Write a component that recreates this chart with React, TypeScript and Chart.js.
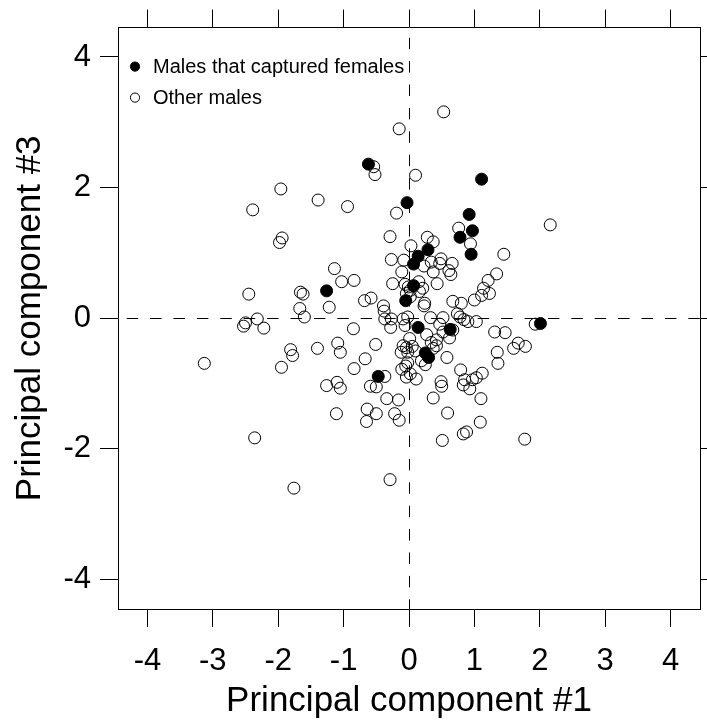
import React, { useEffect, useRef } from 'react';
import { Chart, registerables } from 'chart.js';

Chart.register(...registerables);

const FONT = '"Liberation Sans", Arial, Helvetica, sans-serif';

const seriesLabels = ['Males that captured females', 'Other males'];
const xTickValues = [-4, -3, -2, -1, 0, 1, 2, 3, 4];
const yTickValues = [-4, -2, 0, 2, 4];
const axisLimit = 4.45;

const capturedX = [-0.62, -0.03, 1.11, 0.92, 0.97, 0.78, 0.95, 0.29, 0.14, 0.07, 0.07, -0.05, -1.26, 2.01, 0.14, 0.63, 0.25, 0.30, -0.47];
const capturedY = [2.36, 1.77, 2.13, 1.59, 1.34, 1.24, 0.98, 1.05, 0.95, 0.83, 0.50, 0.27, 0.42, -0.08, -0.14, -0.17, -0.53, -0.60, -0.89];

const otherX = [
  0.53, -0.15, -0.54, -0.52, 0.10, -1.96, -1.39, -2.39, -0.94, -0.19,
  -1.94, -1.98, -0.29, 0.03, 2.16, 0.76, 0.94, 0.28, 0.37, -0.27,
  -0.08, -1.14, -0.11, -1.03, -0.84, -2.45, -1.66, -1.62, 1.45, 1.34,
  1.21, 1.14, 1.23, 1.11, 1.00, 0.49, 0.47, 0.34, 0.66, 0.37,
  0.61, 0.64, 0.23, 0.43, -0.25, -0.06, -0.01, 0.02, 0.15, 0.21,
  0.16, -0.04, 0.02, -0.68, -0.58, -1.67, -1.22, -1.60, -2.32, -2.50,
  -2.53, -2.22, 0.24, 0.23, -0.39, -0.38, -0.02, 0.67, 0.80, 0.33,
  0.52, 0.47, 0.74, 0.78, 0.84, 0.90, 1.03, -0.37, -0.27, -0.09,
  -0.06, -0.28, -0.85, 1.31, 1.47, 1.93, 1.67, 1.60, 1.78, 1.35,
  1.36, 0.67, 0.52, 0.62, 0.42, 0.34, 0.42, 0.37, 0.27, 0.58,
  0.19, 0.25, 0.79, 1.12, 1.03, 0.97, 0.85, 0.83, 0.93, 0.49,
  0.50, 0.37, 1.10, 0.59, 1.09, 0.83, 0.88, 0.51, 1.77, 0.01,
  -0.09, -0.04, 0.05, -0.02, 0.10, -0.12, -0.02, -0.05, -0.11, 0.02,
  -0.04, 0.11, -0.37, -0.59, -0.50, -0.34, -0.16, -0.64, -0.50, -0.65,
  -0.22, -0.15, -1.11, -2.36, -0.29, -1.76, -0.51, -1.09, -1.05, -1.40,
  -1.81, -1.78, -1.95, -3.13, -0.67, -0.84, -1.26, -1.10, -1.05,
];
const otherY = [
  3.16, 2.90, 2.32, 2.20, 2.19, 1.98, 1.81, 1.66, 1.71, 1.61,
  1.23, 1.16, 1.25, 1.11, 1.43, 1.38, 1.14, 1.24, 1.17, 0.90,
  0.89, 0.76, 0.71, 0.56, 0.58, 0.37, 0.40, 0.37, 0.98, 0.68,
  0.58, 0.46, 0.38, 0.35, 0.28, 0.91, 0.84, 0.86, 0.84, 0.71,
  0.73, 0.67, 0.80, 0.53, 0.53, 0.52, 0.48, 0.43, 0.56, 0.46,
  0.41, 0.38, 0.33, 0.27, 0.31, 0.15, 0.17, 0.02, -0.01, -0.07,
  -0.12, -0.15, 0.23, 0.19, 0.19, 0.11, 0.02, 0.26, 0.23, 0.01,
  0.01, -0.09, 0.07, 0.02, -0.02, -0.05, -0.05, -0.01, -0.01, -0.01,
  -0.11, -0.14, -0.16, -0.21, -0.22, -0.09, -0.38, -0.46, -0.43, -0.52,
  -0.69, -0.18, -0.21, -0.30, -0.33, -0.37, -0.42, -0.46, -0.25, -0.60,
  -0.65, -0.71, -0.79, -0.84, -0.91, -0.94, -0.94, -1.02, -1.08, -0.97,
  -1.04, -1.22, -1.23, -1.45, -1.59, -1.77, -1.74, -1.87, -1.85, -0.31,
  -0.42, -0.45, -0.43, -0.52, -0.50, -0.52, -0.68, -0.73, -0.78, -0.85,
  -0.90, -0.93, -0.89, -1.04, -1.05, -1.23, -1.25, -1.39, -1.46, -1.58,
  -1.46, -1.56, -1.46, -1.83, -2.47, -2.60, -0.40, -0.38, -0.52, -0.46,
  -0.48, -0.57, -0.75, -0.69, -0.62, -0.77, -1.03, -0.98, -1.07,
];

const toPoints = (xs: number[], ys: number[]) => xs.map((x, i) => ({ x, y: ys[i] }));

export default function App() {
  const ref = useRef<HTMLCanvasElement>(null);

  useEffect(() => {
    const canvas = ref.current;
    if (!canvas) return;

    const zeroLines = {
      id: 'zeroLines',
      beforeDatasetsDraw(chart: any) {
        const { ctx, chartArea: a, scales } = chart;
        const x0 = Math.floor(scales.x.getPixelForValue(0)) + 0.5;
        const y0 = Math.floor(scales.y.getPixelForValue(0)) + 0.5;
        const dash = 11.5;
        const gap = 11.9;
        const P = dash + gap;
        ctx.save();
        ctx.beginPath();
        ctx.rect(a.left, a.top, a.right - a.left, a.bottom - a.top);
        ctx.clip();
        ctx.strokeStyle = '#000';
        ctx.lineWidth = 1;
        ctx.setLineDash([dash, gap]);
        let d = y0 - a.top;
        ctx.lineDashOffset = (P - (d % P)) % P;
        ctx.beginPath();
        ctx.moveTo(x0, a.top);
        ctx.lineTo(x0, a.bottom);
        ctx.stroke();
        d = x0 - 2 - a.left;
        ctx.lineDashOffset = (P - (d % P)) % P;
        ctx.beginPath();
        ctx.moveTo(a.left, y0);
        ctx.lineTo(a.right, y0);
        ctx.stroke();
        ctx.restore();
      },
    };

    const insetLegend = {
      id: 'insetLegend',
      afterDatasetsDraw(chart: any) {
        const { ctx, chartArea: a } = chart;
        ctx.save();
        ctx.font = `20px ${FONT}`;
        ctx.textBaseline = 'middle';
        ctx.textAlign = 'left';
        chart.data.datasets.forEach((ds: any, i: number) => {
          const cy = a.top + 39 + i * 31;
          const cx = a.left + 17;
          ctx.beginPath();
          ctx.arc(cx, cy, 4.6, 0, Math.PI * 2);
          ctx.fillStyle = ds.pointBackgroundColor;
          ctx.fill();
          ctx.lineWidth = 1;
          ctx.strokeStyle = '#000';
          ctx.stroke();
          ctx.fillStyle = '#000';
          ctx.fillText(ds.label, a.left + 35, cy + 1);
        });
        ctx.restore();
      },
    };

    const gridOpts = {
      display: true,
      drawOnChartArea: false,
      drawTicks: true,
      tickLength: 18,
      color: '#000',
      lineWidth: 1,
    };
    const borderOpts = { display: true, color: '#000', width: 1 };
    const setXTicks = (axis: any) => {
      axis.ticks = xTickValues.map((v) => ({ value: v }));
    };
    const setYTicks = (axis: any) => {
      axis.ticks = yTickValues.map((v) => ({ value: v }));
    };

    const chart = new Chart(canvas, {
      type: 'scatter',
      data: {
        datasets: [
          {
            label: seriesLabels[0],
            data: toPoints(capturedX, capturedY),
            pointRadius: 6,
            pointHoverRadius: 6,
            pointBackgroundColor: '#000',
            pointBorderColor: '#000',
            pointBorderWidth: 1,
          },
          {
            label: seriesLabels[1],
            data: toPoints(otherX, otherY),
            pointRadius: 6,
            pointHoverRadius: 6,
            pointBackgroundColor: 'rgba(0,0,0,0)',
            pointBorderColor: '#000',
            pointBorderWidth: 1,
          },
        ],
      },
      options: {
        animation: false,
        responsive: false,
        devicePixelRatio: 1,
        layout: { padding: 0 },
        plugins: {
          legend: { display: false },
          tooltip: { enabled: false },
        },
        events: [],
        scales: {
          x: {
            type: 'linear',
            position: 'bottom',
            min: -axisLimit,
            max: axisLimit,
            afterBuildTicks: setXTicks,
            grid: gridOpts,
            border: borderOpts,
            ticks: {
              color: '#000',
              font: { family: FONT, size: 31 },
              padding: 16,
              maxRotation: 0,
              autoSkip: false,
              callback: (v: any) => String(v),
            },
            title: {
              display: true,
              text: 'Principal component #1',
              color: '#000',
              font: { family: FONT, size: 35 },
              padding: { top: 0, bottom: 4 },
            },
            afterFit: (s: any) => {
              s.height = 117;
            },
          },
          x2: {
            type: 'linear',
            position: 'top',
            min: -axisLimit,
            max: axisLimit,
            afterBuildTicks: setXTicks,
            grid: gridOpts,
            border: borderOpts,
            ticks: { display: false },
            afterFit: (s: any) => {
              s.height = 26;
            },
          },
          y: {
            type: 'linear',
            position: 'left',
            min: -axisLimit,
            max: axisLimit,
            afterBuildTicks: setYTicks,
            grid: gridOpts,
            border: borderOpts,
            ticks: {
              color: '#000',
              font: { family: FONT, size: 31 },
              padding: 9,
              autoSkip: false,
              callback: (v: any) => String(v),
            },
            title: {
              display: true,
              text: 'Principal component #3',
              color: '#000',
              font: { family: FONT, size: 35 },
              padding: { top: 9, bottom: 0 },
            },
            afterFit: (s: any) => {
              s.width = 118;
            },
          },
          y2: {
            type: 'linear',
            position: 'right',
            min: -axisLimit,
            max: axisLimit,
            afterBuildTicks: setYTicks,
            grid: gridOpts,
            border: borderOpts,
            ticks: { display: false },
            afterFit: (s: any) => {
              s.width = 7;
            },
          },
        },
      } as any,
      plugins: [zeroLines, insetLegend],
    });

    return () => chart.destroy();
  }, []);

  return (
    <div style={{ position: 'absolute', left: 0, top: 0, width: 707, height: 726, background: '#fff' }}>
      <canvas ref={ref} width={707} height={726} style={{ display: 'block', width: 707, height: 726 }} />
    </div>
  );
}
